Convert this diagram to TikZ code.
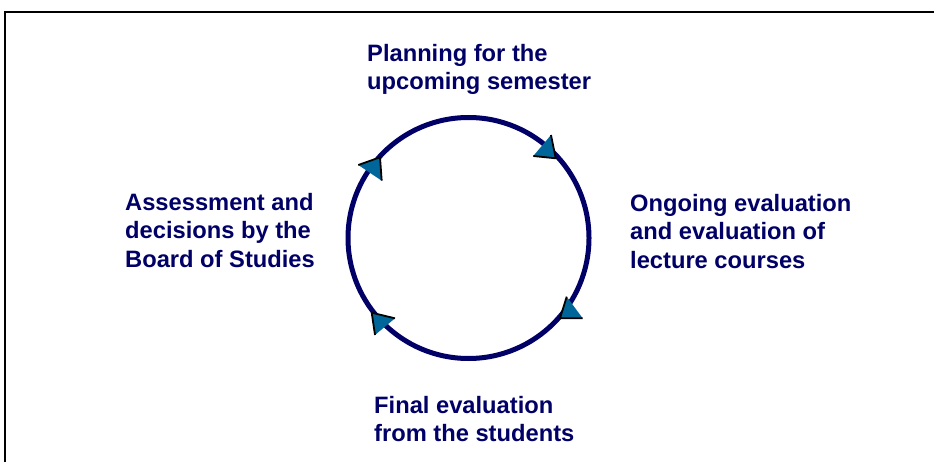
\documentclass[tikz,border=0pt]{standalone}
\usepackage{fontspec}
\setmainfont{Liberation Sans}
\definecolor{cyclenavy}{HTML}{000066}
\definecolor{tipblue}{HTML}{006699}

\begin{document}
\begin{tikzpicture}[x=1pt, y=-1pt,
    stage/.style={anchor=north west, inner sep=0pt, align=left, text=cyclenavy,
                  font=\fontsize{23.7}{28.5}\selectfont\bfseries}]
                    \useasboundingbox (0,0) rectangle (934,462);

                    % Frame
                    \draw[line width=1.5pt] (5,470) -- (5,12) -- (940,12);

                    % Cycle
                    \coordinate (hub) at (468.5,238);
                    \draw[cyclenavy, line width=5pt] (hub) circle[radius=120.5];

                    % Arrow tips - black edges meet at the middle point
                    \foreach \ax/\ay/\vx/\vy/\bx/\by in {533.3/156/555.7/158.3/551/135,
                                                          358.3/165/380/157.3/381.7/180.7,
                                                          566.7/296.7/560/318.3/582.7/318.3,
                                                          395/318.3/371.7/312.7/375/335}
                    {
                        \fill[tipblue] (\ax,\ay) -- (\vx,\vy) -- (\bx,\by) -- cycle;
                        \draw[line width=1.8pt, line join=round] (\ax,\ay) -- (\vx,\vy) -- (\bx,\by);
                    }

                    % Stage labels
                    \node[stage] (plan) at (367,44) {Planning for the\\upcoming semester};
                    \node[stage] (ongoing) at (630,194) {Ongoing evaluation\\and evaluation of\\lecture courses};
                    \node[stage] (final) at (374,396) {Final evaluation\\from the students};
                    \node[stage] (board) at (125,193) {Assessment and\\decisions by the\\Board of Studies};
\end{tikzpicture}
\end{document}
